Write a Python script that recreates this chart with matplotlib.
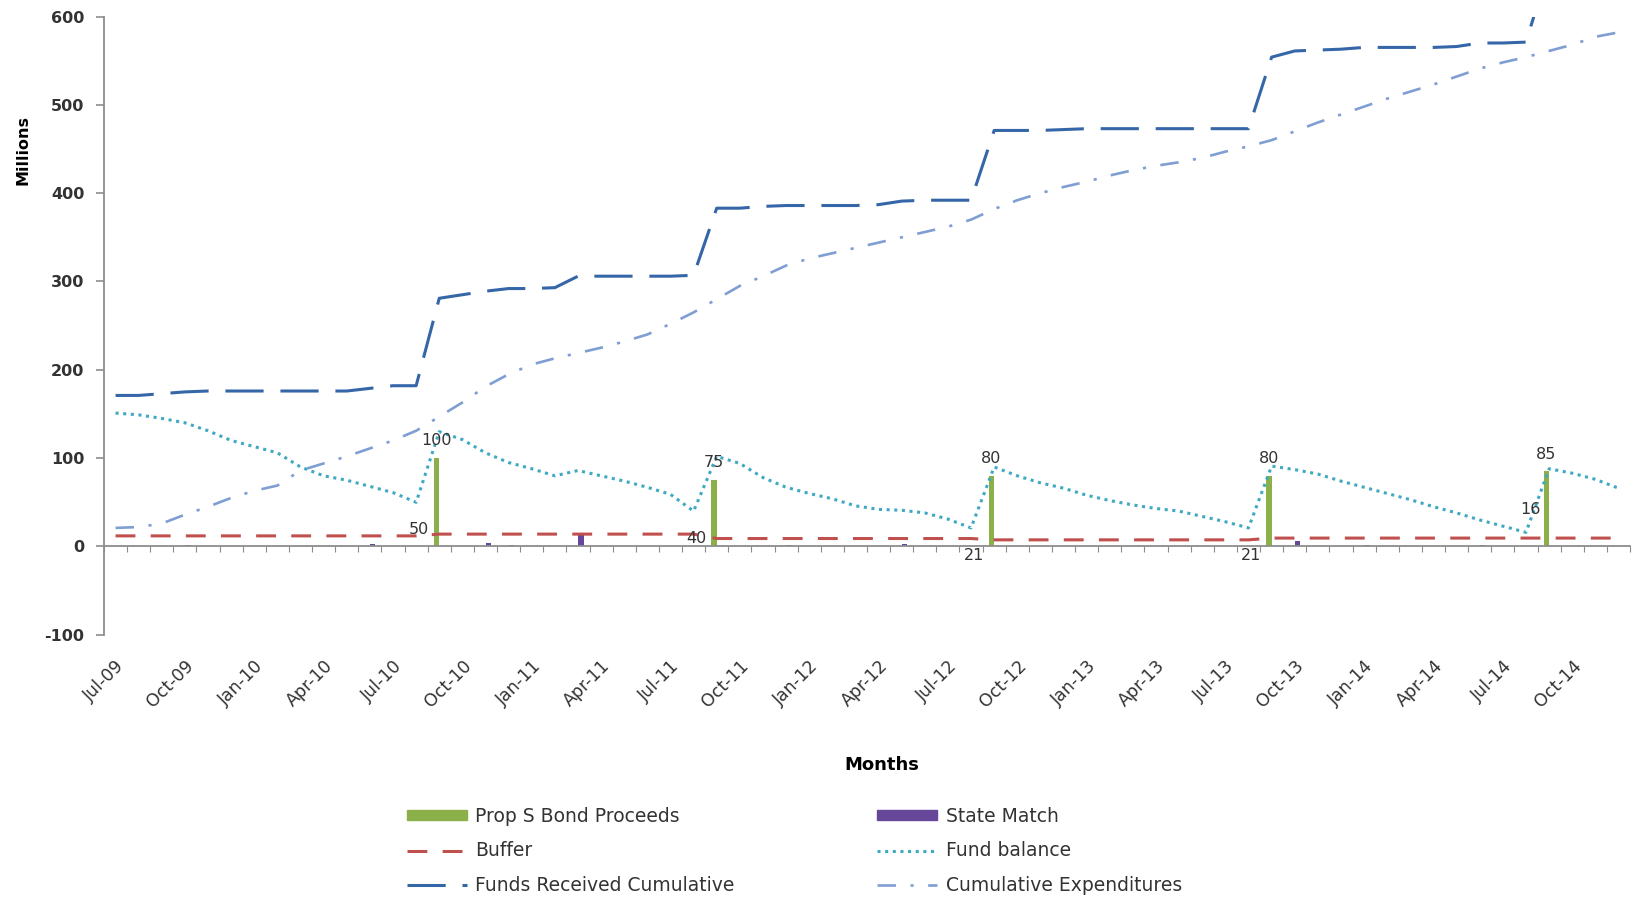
import matplotlib
matplotlib.use("Agg")
import matplotlib.pyplot as plt
import numpy as np
from matplotlib.lines import Line2D
from matplotlib.patches import Patch

# ---- data (millions, monthly from Jul-09 to Dec-14) ----
tick_labels = ["Jul-09", "Oct-09", "Jan-10", "Apr-10", "Jul-10", "Oct-10",
               "Jan-11", "Apr-11", "Jul-11", "Oct-11", "Jan-12", "Apr-12",
               "Jul-12", "Oct-12", "Jan-13", "Apr-13", "Jul-13", "Oct-13",
               "Jan-14", "Apr-14", "Jul-14", "Oct-14"]

bond_proceeds = [0, 0, 0, 0, 0, 0, 0, 0, 0, 0, 0, 0,
                 0, 0, 100, 0, 0, 0, 0, 0, 0, 0, 0, 0,
                 0, 0, 75, 0, 0, 0, 0, 0, 0, 0, 0, 0,
                 0, 0, 80, 0, 0, 0, 0, 0, 0, 0, 0, 0,
                 0, 0, 80, 0, 0, 0, 0, 0, 0, 0, 0, 0,
                 0, 0, 85, 0, 0, 0]

state_match = [1, 0, 0, 2, 1, 0, 0, 0, 0, 0, 0, 3,
               0, 1, 0, 1, 4, 2, 1, 0, 13, 0, 0, 0,
               1, 1, 0, 0, 0, 2, 0, 0, 0, 1, 3, 0,
               0, 0, 0, 0, 0, 0, 0, 1, 0, 0, 0, 0,
               0, 0, 0, 6, 1, 1, 2, 0, 1, 0, 1, 2,
               0, 0, 0, 1, 0, 1]

buffer = [12, 12, 12, 12, 12, 12, 12, 12, 12, 12, 12, 12,
          12, 12, 14, 14, 14, 14, 14, 14, 14, 14, 14, 14,
          14, 14, 9, 9, 9, 9, 9, 9, 9, 9, 9, 9,
          9, 9, 7.5, 7.5, 7.5, 7.5, 7.5, 7.5, 7.5, 7.5, 7.5, 7.5,
          7.5, 7.5, 9.5, 9.5, 9.5, 9.5, 9.5, 9.5, 9.5, 9.5, 9.5, 9.5,
          9.5, 9.5, 9.5, 9.5, 9.5, 9.5]

fund_balance = [151, 149, 145, 140, 131, 120, 113, 106, 90, 80, 75, 68,
                61, 50, 130, 121, 106, 95, 88, 80, 86, 80, 74, 67,
                59, 40, 102, 94, 78, 67, 60, 54, 46, 42, 41, 38,
                31, 21, 90, 80, 72, 66, 58, 52, 47, 43, 40, 34,
                28, 21, 91, 87, 82, 74, 67, 60, 53, 45, 38, 30,
                23, 16, 88, 83, 76, 66]

funds_received = [171, 171, 173, 175, 176, 176, 176, 176, 176, 176, 176, 179,
                  182, 182, 281, 285, 289, 292, 292, 293, 306, 306, 306, 306,
                  306, 307, 383, 383, 385, 386, 386, 386, 386, 387, 391, 392,
                  392, 392, 471, 471, 471, 472, 473, 473, 473, 473, 473, 473,
                  473, 473, 554, 561, 562, 563, 565, 565, 565, 565, 566, 570,
                  570, 571, 656, 656, 657, 657]

cum_expenditures = [21, 22, 26, 36, 45, 55, 63, 69, 86, 94, 102, 111,
                    120, 131, 147, 163, 181, 195, 206, 213, 219, 225, 232, 240,
                    252, 265, 280, 295, 306, 318, 326, 332, 338, 344, 350, 356,
                    362, 370, 382, 392, 400, 407, 413, 420, 426, 431, 435, 440,
                    447, 453, 460, 470, 480, 489, 498, 507, 515, 523, 532, 541,
                    548, 554, 561, 568, 577, 582]

# ---- styles ----
GREEN = "#8BB04A"
PURPLE = "#66479A"
RED = "#C0504D"
TEAL = "#3FA9C2"
DARK_BLUE = "#3566A8"
LIGHT_BLUE = "#7F9ED3"
AXIS_GRAY = "#8C8C8C"
TEXT = "#333333"

plt.rcParams["font.family"] = ["DejaVu Sans"]
plt.rcParams["axes.unicode_minus"] = False

W, H = 1635, 897
fig = plt.figure(figsize=(W / 100, H / 100), dpi=100)
left_px, right_px, top_px, bottom_px = 104, 1630, 16.5, 634.8
ax = fig.add_axes([left_px / W, 1 - bottom_px / H,
                   (right_px - left_px) / W, (bottom_px - top_px) / H])

x = np.arange(len(fund_balance))
bar_w = 0.24
ax.bar(x - bar_w / 2, bond_proceeds, width=bar_w, color=GREEN, zorder=2)
ax.bar(x + bar_w / 2, state_match, width=bar_w, color=PURPLE, zorder=2)

ax.plot(x, buffer, color=RED, lw=2.2, dashes=(6.5, 5), zorder=3)
ax.plot(x, fund_balance, color=TEAL, lw=2.2, dashes=(1, 1.5), zorder=3)
ax.plot(x, funds_received, color=DARK_BLUE, lw=2.2, dashes=(12.5, 5.5), zorder=3)
ax.plot(x, cum_expenditures, color=LIGHT_BLUE, lw=1.9,
        dashes=(7, 5.5, 1.2, 5.5), zorder=3)

ax.set_xlim(-0.5, len(x) - 0.5)
ax.set_ylim(-100, 600)

# axes frame: left spine, category axis crossing at zero
for side in ("top", "right"):
    ax.spines[side].set_visible(False)
ax.spines["left"].set_color(AXIS_GRAY)
ax.spines["left"].set_linewidth(1.3)
ax.spines["bottom"].set_position(("data", 0))
ax.spines["bottom"].set_color(AXIS_GRAY)
ax.spines["bottom"].set_linewidth(1.3)

ax.set_xticks(np.arange(-0.5, len(x), 1))
ax.tick_params(axis="x", which="both", direction="out", length=4,
               color=AXIS_GRAY, labelbottom=False)

ax.set_yticks(np.arange(-100, 601, 100))
ax.tick_params(axis="y", direction="out", length=6, width=1.2,
               color=AXIS_GRAY, pad=8, labelsize=11.5, labelcolor=TEXT)
for lab in ax.get_yticklabels():
    lab.set_fontweight("bold")

# month labels sit below the plotting area
sec = ax.secondary_xaxis(0)
sec.set_xticks(np.arange(0, len(x), 3), labels=tick_labels)
sec.spines["bottom"].set_visible(False)
sec.tick_params(axis="x", length=0, pad=16, labelsize=12.5, labelcolor=TEXT)
for lab in sec.get_xticklabels():
    lab.set_rotation(45)
    lab.set_ha("right")
    lab.set_rotation_mode("anchor")

ax.set_ylabel("Millions", fontsize=11.5, fontweight="bold", color="black")
ax.yaxis.set_label_coords(-0.048, 0.784)
ax.set_xlabel("Months", fontsize=13, fontweight="bold", color="black")
ax.xaxis.set_label_coords(0.51, -0.196)

# value labels on the bond tranches and the balance low points before them
bond_idx = [i for i, v in enumerate(bond_proceeds) if v > 0]
for i in bond_idx:
    ax.annotate(f"{bond_proceeds[i]:g}", (i - bar_w / 2, bond_proceeds[i]),
                xytext=(0, 12.5), textcoords="offset points",
                ha="center", va="center", fontsize=11.5, color=TEXT, zorder=4)

low_offsets = [(2, -19.5), (2, -19.5), (2, -19.5), (2, -19.5), (3.5, 16.5)]
for i, off in zip(bond_idx, low_offsets):
    j = i - 1
    ax.annotate(f"{fund_balance[j]:g}", (j, fund_balance[j]),
                xytext=off, textcoords="offset points",
                ha="center", va="center", fontsize=11.5, color=TEXT, zorder=4)

# legend, three rows of two
handles = [
    Patch(color=GREEN),
    Line2D([], [], color=RED, lw=2.2, dashes=(6.5, 5)),
    Line2D([], [], color=DARK_BLUE, lw=2.2, dashes=(12.5, 5.5)),
    Patch(color=PURPLE),
    Line2D([], [], color=TEAL, lw=2.2, dashes=(1, 1.5)),
    Line2D([], [], color=LIGHT_BLUE, lw=1.9, dashes=(7, 5.5, 1.2, 5.5)),
]
labels = ["Prop S Bond Proceeds", "Buffer", "Funds Received Cumulative",
          "State Match", "Fund balance", "Cumulative Expenditures"]
leg = fig.legend(handles, labels, ncol=2, loc="upper left",
                 bbox_to_anchor=(407 / W, 1 - 807 / H), frameon=False,
                 fontsize=13.5, handlelength=3.2, handleheight=0.45,
                 handletextpad=0.45, columnspacing=7.6, labelspacing=0.82,
                 borderpad=0, borderaxespad=0)
for t in leg.get_texts():
    t.set_color(TEXT)

fig.savefig("out.png", dpi=100)
